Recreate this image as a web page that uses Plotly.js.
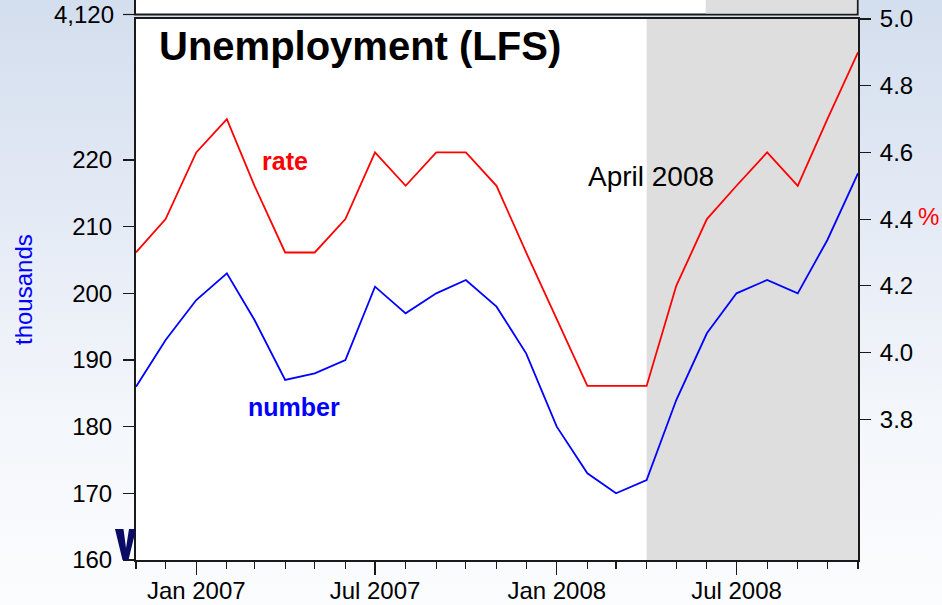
<!DOCTYPE html>
<html>
<head>
<meta charset="utf-8">
<script src="https://cdn.plot.ly/plotly-3.0.1.min.js"></script>
<style>
  html, body { margin:0; padding:0; width:942px; height:605px; overflow:hidden;
    background: linear-gradient(180deg, #d3deee 0%, #e4eaf5 35%, #f4f7fb 70%, #fbfcfe 100%); }
  #chart { width:942px; height:605px; }
</style>
</head>
<body>
<div id="chart"></div>
<script>
// ---- data ----
const months = ['2006-11-01','2006-12-01','2007-01-01','2007-02-01','2007-03-01','2007-04-01',
  '2007-05-01','2007-06-01','2007-07-01','2007-08-01','2007-09-01','2007-10-01','2007-11-01',
  '2007-12-01','2008-01-01','2008-02-01','2008-03-01','2008-04-01','2008-05-01','2008-06-01',
  '2008-07-01','2008-08-01','2008-09-01','2008-10-01','2008-11-01'];
const numberThousands = [186,193,199,203,196,187,188,190,201,197,200,202,198,191,180,173,170,172,184,194,200,202,200,208,218];
const ratePct = [4.3,4.4,4.6,4.7,4.5,4.3,4.3,4.4,4.6,4.5,4.6,4.6,4.5,4.3,4.1,3.9,3.9,3.9,4.2,4.4,4.5,4.6,4.5,4.7,4.9];
const leftTicks = [160,170,180,190,200,210,220];
const rightTicks = [3.8,4.0,4.2,4.4,4.6,4.8,5.0];
const shadeStart = '2008-04-01';
const shadeEnd = '2008-11-01';

// ---- pixel helpers for decorations (plot area: x 136..858, y 19..560) ----
const PL = 136, PR = 858, PT = 19, PB = 560;
const px = v => (v - PL) / (PR - PL);
const py = v => (PB - v) / (PB - PT);

const FONT = 'Liberation Sans, Arial, Helvetica, sans-serif';
const AXC = '#1a1a1a';

const traces = [
  { x: months, y: numberThousands, type: 'scatter', mode: 'lines', yaxis: 'y',
    line: { color: '#0000ff', width: 1.8 }, hoverinfo: 'skip' },
  { x: months, y: ratePct, type: 'scatter', mode: 'lines', yaxis: 'y2',
    line: { color: '#ff0000', width: 1.8 }, hoverinfo: 'skip' }
];

// partial "W" glyph from the slide behind
const wPts = [[115,529],[123.5,529],[126,548],[129,529],[136,529],[128.5,560],[122.5,560]];
const wPath = 'M' + wPts.map(p => px(p[0]).toFixed(5) + ',' + py(p[1]).toFixed(5)).join(' L') + ' Z';

const layout = {
  width: 942, height: 605,
  margin: { l: PL, r: 942 - PR, t: PT, b: 605 - PB, pad: 0 },
  paper_bgcolor: 'rgba(0,0,0,0)',
  plot_bgcolor: '#ffffff',
  showlegend: false,
  font: { family: FONT, size: 24, color: '#000' },
  xaxis: {
    type: 'date', range: [months[0], months[months.length - 1]],
    tick0: '2007-01-01', dtick: 'M6', tickformat: '%b %Y',
    ticks: 'outside', ticklen: 13, tickwidth: 1.2, tickcolor: AXC,
    minor: { dtick: 'M1', tick0: '2006-11-01', ticks: 'outside', ticklen: 7, tickwidth: 1.2, tickcolor: AXC },
    showline: true, linecolor: AXC, linewidth: 2, mirror: true,
    showgrid: false, zeroline: false, ticklabelstandoff: -5,
    tickfont: { family: FONT, size: 24, color: '#000' }
  },
  yaxis: {
    range: [160, 241.15], tickmode: 'array', tickvals: leftTicks,
    ticks: 'outside', ticklen: 11, tickwidth: 1.2, tickcolor: AXC,
    showline: true, linecolor: AXC, linewidth: 2,
    showgrid: false, zeroline: false, ticklabelstandoff: 6,
    tickfont: { family: FONT, size: 24, color: '#000' }
  },
  yaxis2: {
    overlaying: 'y', side: 'right',
    range: [3.378, 5.0], tickmode: 'array', tickvals: rightTicks, tickformat: '.1f',
    ticks: 'outside', ticklen: 11, tickwidth: 1.2, tickcolor: AXC,
    showline: true, linecolor: AXC, linewidth: 2,
    showgrid: false, zeroline: false, ticklabelstandoff: 4,
    tickfont: { family: FONT, size: 24, color: '#000' }
  },
  shapes: [
    { type: 'rect', xref: 'x', yref: 'paper', x0: shadeStart, x1: shadeEnd, y0: 0, y1: 1,
      fillcolor: '#dedede', line: { width: 0 }, layer: 'below' },
    // chart box of the slide behind (top strip)
    { type: 'rect', xref: 'paper', yref: 'paper', x0: px(135), x1: px(857.6), y0: py(14.5), y1: py(-10),
      fillcolor: '#ffffff', line: { color: AXC, width: 2 }, layer: 'above' },
    { type: 'rect', xref: 'paper', yref: 'paper', x0: px(705.7), x1: px(856.6), y0: py(13.5), y1: py(-10),
      fillcolor: '#dedede', line: { width: 0 }, layer: 'above' },
    { type: 'line', xref: 'paper', yref: 'paper', x0: px(123), x1: px(135), y0: py(14.5), y1: py(14.5),
      line: { color: AXC, width: 1.2 } },
    { type: 'path', xref: 'paper', yref: 'paper', path: wPath,
      fillcolor: '#0b0b66', line: { width: 0 } }
  ],
  annotations: [
    { text: '<b>Unemployment (LFS)</b>', xref: 'paper', yref: 'paper', x: px(157), y: py(46),
      xanchor: 'left', yanchor: 'middle', showarrow: false,
      font: { family: FONT, size: 40, color: '#000' } },
    { text: '<b>rate</b>', xref: 'paper', yref: 'paper', x: px(285), y: py(161),
      xanchor: 'center', yanchor: 'middle', showarrow: false,
      font: { family: FONT, size: 25, color: '#ff0000' } },
    { text: '<b>number</b>', xref: 'paper', yref: 'paper', x: px(294), y: py(407),
      xanchor: 'center', yanchor: 'middle', showarrow: false,
      font: { family: FONT, size: 25, color: '#0000ff' } },
    { text: 'April 2008', xref: 'paper', yref: 'paper', x: px(651), y: py(176),
      xanchor: 'center', yanchor: 'middle', showarrow: false,
      font: { family: FONT, size: 28, color: '#000' } },
    { text: '%', xref: 'paper', yref: 'paper', x: px(928), y: py(217),
      xanchor: 'center', yanchor: 'middle', showarrow: false,
      font: { family: FONT, size: 24, color: '#ff0000' } },
    { text: 'thousands', xref: 'paper', yref: 'paper', x: px(23), y: py(290), textangle: -90,
      xanchor: 'center', yanchor: 'middle', showarrow: false,
      font: { family: FONT, size: 24, color: '#0000ff' } },
    { text: '4,120', xref: 'paper', yref: 'paper', x: px(116), y: py(14),
      xanchor: 'right', yanchor: 'middle', showarrow: false,
      font: { family: FONT, size: 24, color: '#000' } }
  ]
};

Plotly.newPlot('chart', traces, layout, { displayModeBar: false, staticPlot: true });
</script>
</body>
</html>
